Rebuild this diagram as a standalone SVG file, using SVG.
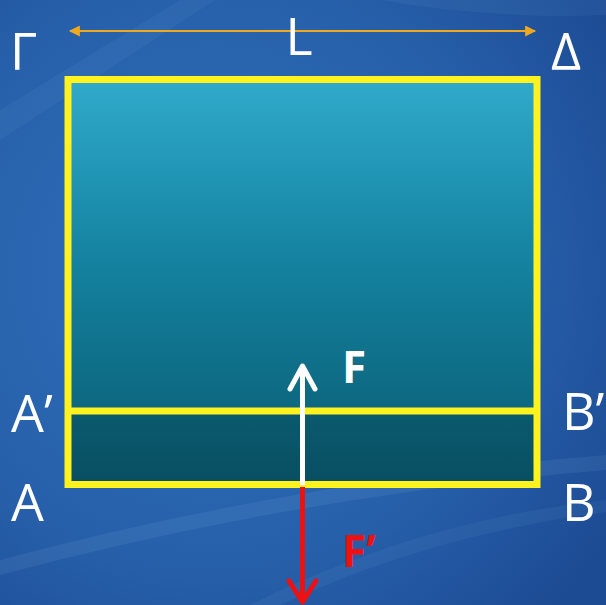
<svg xmlns="http://www.w3.org/2000/svg" width="606" height="605" viewBox="0 0 606 605">
  <defs>
    <radialGradient id="bg" cx="0.35" cy="0.45" r="0.8">
      <stop offset="0" stop-color="#2F6FBC"/>
      <stop offset="0.6" stop-color="#2760AA"/>
      <stop offset="1" stop-color="#1C4A93"/>
    </radialGradient>
    <linearGradient id="tank" x1="0" y1="0" x2="0" y2="1">
      <stop offset="0" stop-color="#30AACB"/>
      <stop offset="0.45" stop-color="#1482A0"/>
      <stop offset="1" stop-color="#0A5A70"/>
    </linearGradient>
    <linearGradient id="layer" x1="0" y1="0" x2="0" y2="1">
      <stop offset="0" stop-color="#0B5A6E"/>
      <stop offset="1" stop-color="#084E62"/>
    </linearGradient>
    <marker id="ah" viewBox="0 0 10 10" refX="9" refY="5" markerUnits="userSpaceOnUse" markerWidth="13" markerHeight="11" orient="auto-start-reverse">
      <path d="M0,0 L10,5 L0,10 z" fill="#F2A81D"/>
    </marker>
  </defs>
  <style>
    .lbl { font-family: "Open Sans", "Liberation Sans", sans-serif; font-size: 52px; fill: #FFFFFF; }
    .frc { font-family: "Open Sans", "Liberation Sans", sans-serif; font-size: 44px; font-weight: bold; }
    .edge { fill: none; stroke: #FFF21F; stroke-width: 7; }
  </style>

  <!-- background -->
  <rect x="0" y="0" width="606" height="605" fill="url(#bg)"/>
  <path d="M0,110 L180,0 L215,0 L0,140 z" fill="#7FB2E8" opacity="0.07"/>
  <path d="M0,560 Q300,480 606,455 L606,470 Q300,495 0,575 z" fill="#8FC0EE" opacity="0.1"/>
  <path d="M250,605 Q420,520 606,500 L606,512 Q430,535 280,605 z" fill="#8FC0EE" opacity="0.07"/>
  <path d="M380,0 Q500,20 606,15 L606,0 z" fill="#8FC0EE" opacity="0.07"/>

  <!-- tank -->
  <g id="tank-body">
    <rect x="68" y="79.5" width="469" height="405" fill="url(#tank)"/>
    <rect x="68" y="411.5" width="469" height="73" fill="url(#layer)"/>
    <rect class="edge" x="68" y="79.5" width="469" height="405"/>
    <line class="edge" x1="68" y1="411" x2="537" y2="411"/>
  </g>

  <!-- connectors -->
  <g id="connectors">
    <line id="dim-L" x1="70" y1="31" x2="535" y2="31" stroke="#F2A81D" stroke-width="2" marker-start="url(#ah)" marker-end="url(#ah)"/>
    <g id="arrow-F" fill="none" stroke="#FFFFFF" stroke-width="5">
      <line x1="302.5" y1="485" x2="302.5" y2="366"/>
      <polyline points="290,389 302.5,366 315,389" stroke-linecap="round" stroke-linejoin="round"/>
    </g>
    <g id="arrow-F2" fill="none" stroke="#EE1111" stroke-width="5">
      <line x1="302.5" y1="487" x2="302.5" y2="601"/>
      <polyline points="289,581 302.5,602 316,581" stroke-linecap="round" stroke-linejoin="round"/>
    </g>
  </g>

  <!-- labels -->
  <g id="label-L"><text class="lbl" x="299" y="55" font-size="64" text-anchor="middle">L</text></g>
  <g id="label-Gamma"><text class="lbl" x="10" y="70">Γ</text></g>
  <g id="label-Delta"><text class="lbl" x="551" y="70">Δ</text></g>
  <g id="label-A1"><text class="lbl" x="11" y="432">A’</text></g>
  <g id="label-A"><text class="lbl" x="11" y="521">A</text></g>
  <g id="label-B1"><text class="lbl" x="562" y="430">B’</text></g>
  <g id="label-B"><text class="lbl" x="562" y="521">B</text></g>
  <g id="label-F"><text class="frc" x="342" y="383" fill="#FFFFFF">F</text></g>
  <g id="label-F2"><text class="frc" x="342" y="567" fill="#EE1111">F’</text></g>
</svg>
